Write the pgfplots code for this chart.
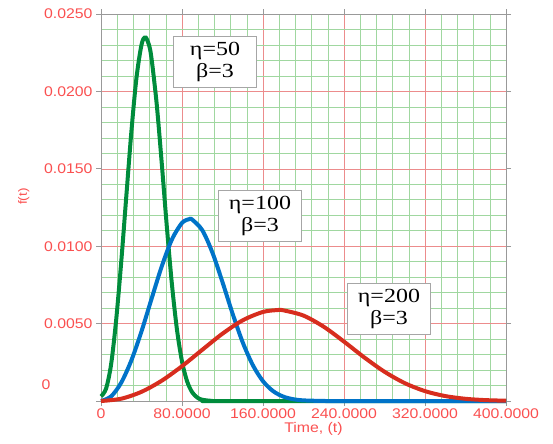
\documentclass[border=0pt]{standalone}
\usepackage{fontspec}
\setmainfont{Liberation Sans}
\newfontfamily\tickfont[FakeStretch=1.13]{Liberation Sans}
\newfontfamily\boxfont[FakeStretch=1.2]{Liberation Serif}
\usepackage{pgfplots}
\pgfplotsset{compat=1.18}

\definecolor{lblred}{RGB}{250,80,80}
\definecolor{majgrid}{RGB}{236,140,140}
\definecolor{mingrid}{RGB}{160,215,160}
\definecolor{cgreen}{RGB}{0,140,60}
\definecolor{cblue}{RGB}{0,115,200}
\definecolor{cred}{RGB}{215,45,30}

\begin{document}
\begin{tikzpicture}
  \begin{axis}[
      scale only axis,
      width=405bp, height=387bp,
      xmin=0, xmax=400,
      ymin=0, ymax=0.025,
      xtick={0,80,160,240,320,400},
      xticklabels={0,80.0000,160.0000,240.0000,320.0000,400.0000},
      ytick={0,0.005,0.01,0.015,0.02,0.025},
      yticklabels={,0.0050,0.0100,0.0150,0.0200,0.0250},
      scaled y ticks=false,
      minor tick num=4,
      grid=both,
      major grid style={majgrid, line width=0.6bp},
      minor grid style={mingrid, line width=0.6bp},
      axis line style={gray!80, line width=0.8bp},
      tick align=outside,
      major tick length=5bp,
      minor tick length=0pt,
      tick style={gray!80, line width=0.8bp},
      every tick label/.append style={font=\tickfont\fontsize{14bp}{16bp}\selectfont, text=lblred},
      xticklabel style={yshift=1bp},
      xlabel={\tickfont\fontsize{14bp}{16bp}\selectfont Time, (t)},
      ylabel={\tickfont\fontsize{12bp}{14bp}\selectfont f(t)},
      xlabel style={text=lblred, yshift=3bp, xshift=10bp},
      ylabel style={text=lblred, yshift=8bp, xshift=11bp},
      clip=false,
      every axis plot/.append style={line width=4bp, line join=round},
    ]

    % eta=50, beta=3
    \addplot[cgreen, smooth] coordinates {
        (0,0.0003) (5,0.0008) (10,0.002381) (15,0.005256) (20,0.009005)
        (25,0.013237) (30,0.017404) (35,0.020864) (40,0.023013)
        (43.7,0.023510) (47.5,0.022975) (50,0.022073) (55,0.019183)
        (60,0.015348) (65,0.011269) (70,0.007563) (75,0.004620)
        (80,0.002556) (85,0.001275) (90,0.000570) (95,0.000227)
        (100,0.0000805) (110,0.0000069) (120,0) (400,0)
      };
    % eta=100, beta=3
    \addplot[cblue, smooth] coordinates {
        (0,0) (10,0.000300) (20,0.001190) (30,0.002628) (40,0.004502)
        (50,0.006619) (60,0.008702) (70,0.010432) (80,0.011507)
        (87.4,0.011754) (90,0.011722) (100,0.011036) (110,0.009592)
        (120,0.007674) (130,0.005634) (140,0.003781) (150,0.002310)
        (160,0.001278) (170,0.000637) (180,0.000285) (190,0.000114)
        (200,0.0000403) (220,0.0000034) (240,0) (400,0)
      };
    % eta=200, beta=3
    \addplot[cred, smooth] coordinates {
        (0,0) (20,0.000150) (40,0.000595) (60,0.001314) (80,0.002251)
        (100,0.003309) (120,0.004351) (140,0.005216) (160,0.005754)
        (174.7,0.005877) (180,0.005861) (200,0.005518) (220,0.004796)
        (240,0.003837) (260,0.002817) (280,0.001891) (300,0.001155)
        (320,0.000639) (340,0.000319) (360,0.000143) (380,0.000057)
        (400,0.000020)
      };

    \tikzset{pbox/.style={draw=gray!70, fill=white, line width=0.9bp,
        align=center, inner xsep=4bp, inner ysep=6bp, minimum width=83bp,
        font=\boxfont\fontsize{20bp}{22bp}\selectfont}}
    \node[pbox] at (axis cs:112.6,0.0219) {η=50\\β=3};
    \node[pbox] at (axis cs:157,0.01195) {η=100\\β=3};
    \node[pbox] at (axis cs:284.4,0.00594) {η=200\\β=3};

    \node[text=lblred, font=\tickfont\fontsize{14bp}{16bp}\selectfont]
      at (axis cs:-54.3,0.00103) {0};

    \path (rel axis cs:-0.2494,1.0362) (rel axis cs:1.116,-0.1085);
  \end{axis}
\end{tikzpicture}
\end{document}
